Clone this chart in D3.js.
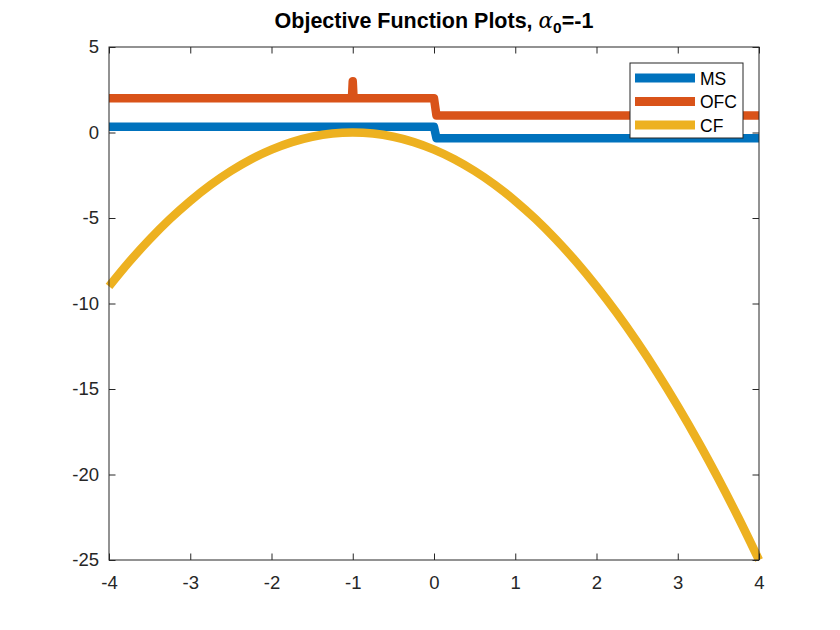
<!DOCTYPE html>
<html><head><meta charset="utf-8">
<script src="https://cdn.jsdelivr.net/npm/d3@7"></script>
<style>body{margin:0;background:#fff}svg{display:block}text{font-family:"Liberation Sans",Arial,sans-serif}</style>
</head><body><svg id="c" width="840" height="630"></svg>
<script>
const xTicks = [-4,-3,-2,-1,0,1,2,3,4];
const yTicks = [5,0,-5,-10,-15,-20,-25];
const seriesNames = ["MS","OFC","CF"];
const seriesColors = ["#0072BD","#D95319","#EDB120"];
const msX = [-4, 0, 0.03, 4];
const msY = [0.33, 0.33, -0.33, -0.33];
const ofcX = [-4, -1.01, -1, -0.99, 0, 0.03, 4];
const ofcY = [2, 2, 3, 2, 2, 1, 1];
const cfX = [-4,-3.75,-3.5,-3.25,-3,-2.75,-2.5,-2.25,-2,-1.75,-1.5,-1.25,-1,-0.75,-0.5,-0.25,0,0.25,0.5,0.75,1,1.25,1.5,1.75,2,2.25,2.5,2.75,3,3.25,3.5,3.75,4];
const cfY = [-9,-7.56,-6.25,-5.06,-4,-3.06,-2.25,-1.56,-1,-0.56,-0.25,-0.06,0,-0.06,-0.25,-0.56,-1,-1.56,-2.25,-3.06,-4,-5.06,-6.25,-7.56,-9,-10.56,-12.25,-14.06,-16,-18.06,-20.25,-22.56,-25];

const svg = d3.select("#c");
const L=109, R=759, T=47, B=560;
const x = d3.scaleLinear().domain([-4,4]).range([L,R]);
const y = d3.scaleLinear().domain([-25,5]).range([B,T]);
const ink = "#262626";
const FS = 18.5;

const g = svg.append("g");
const series = [
  {x: msX, y: msY, c: seriesColors[0], curve: d3.curveLinear},
  {x: ofcX, y: ofcY, c: seriesColors[1], curve: d3.curveLinear},
  {x: cfX, y: cfY, c: seriesColors[2], curve: d3.curveCatmullRom}
];
series.forEach(s => {
  const pts = s.x.map((v,i)=>[v, s.y[i]]);
  g.append("path").attr("d", d3.line().x(d=>x(d[0])).y(d=>y(d[1])).curve(s.curve)(pts))
    .attr("fill","none").attr("stroke", s.c).attr("stroke-width", 8.5)
    .attr("stroke-linejoin","round").attr("stroke-linecap","butt");
});

const ax = svg.append("g");
ax.append("g").attr("transform",`translate(0,${B})`)
  .call(d3.axisBottom(x).tickValues(xTicks).tickSize(-6.5).tickPadding(16).tickFormat(d=>d))
  .call(a=>{a.select(".domain").remove(); a.selectAll("line").attr("stroke",ink); a.selectAll("text").attr("fill",ink).attr("font-size",FS);});
ax.append("g").attr("transform",`translate(0,${T})`)
  .call(d3.axisTop(x).tickValues(xTicks).tickSize(-6.5).tickFormat(""))
  .call(a=>{a.select(".domain").remove(); a.selectAll("line").attr("stroke",ink);});
ax.append("g").attr("transform",`translate(${L},0)`)
  .call(d3.axisLeft(y).tickValues(yTicks).tickSize(-6.5).tickPadding(10).tickFormat(d=>d))
  .call(a=>{a.select(".domain").remove(); a.selectAll("line").attr("stroke",ink); a.selectAll("text").attr("fill",ink).attr("font-size",FS);});
ax.append("g").attr("transform",`translate(${R},0)`)
  .call(d3.axisRight(y).tickValues(yTicks).tickSize(-6.5).tickFormat(""))
  .call(a=>{a.select(".domain").remove(); a.selectAll("line").attr("stroke",ink);});
svg.append("rect").attr("x",L).attr("y",T).attr("width",R-L).attr("height",B-T)
  .attr("fill","none").attr("stroke",ink).attr("stroke-width",1);

const t = svg.append("text").attr("x",(L+R)/2).attr("y",28).attr("text-anchor","middle")
  .attr("font-size",21.5).attr("font-weight","bold").attr("fill","#000");
t.append("tspan").text("Objective Function Plots, ");
t.append("tspan").text("α").attr("font-style","italic").attr("font-weight","normal").attr("font-family","'DejaVu Serif',serif");
t.append("tspan").text("0").attr("dy",5).attr("font-size",15.5);
t.append("tspan").text("=-1").attr("dy",-5);

const lg = svg.append("g");
lg.append("rect").attr("x",630).attr("y",63).attr("width",113).attr("height",75)
  .attr("fill","#fff").attr("stroke",ink).attr("stroke-width",1);
seriesNames.forEach((n,i)=>{
  const yy = 78 + i*23.5;
  lg.append("line").attr("x1",635).attr("x2",695).attr("y1",yy).attr("y2",yy)
    .attr("stroke",seriesColors[i]).attr("stroke-width",9);
  lg.append("text").attr("x",700).attr("y",yy+6.5).attr("font-size",17.5).attr("fill","#000").text(n);
});
</script></body></html>
